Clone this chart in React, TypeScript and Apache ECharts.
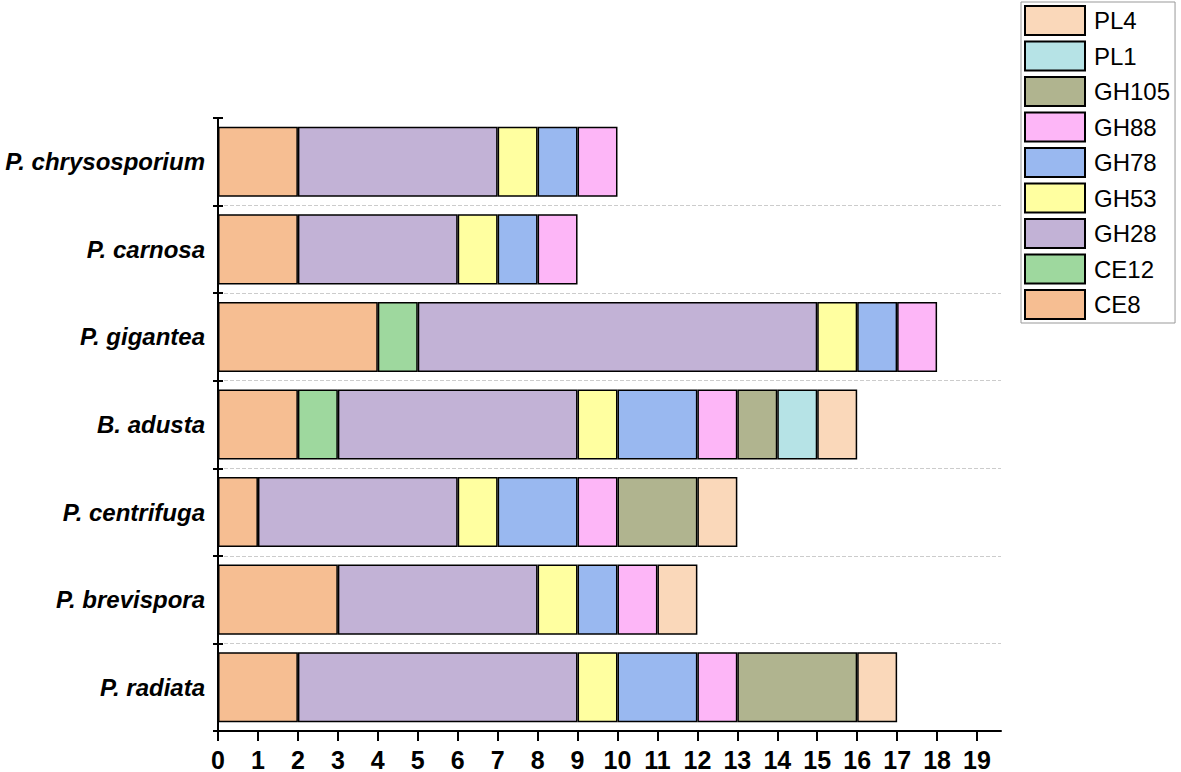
import React, { useEffect, useRef } from "react";
import * as echarts from "echarts";

const species = [
  "P. radiata",
  "P. brevispora",
  "P. centrifuga",
  "B. adusta",
  "P. gigantea",
  "P. carnosa",
  "P. chrysosporium",
];
const seriesNames = ["CE8", "CE12", "GH28", "GH53", "GH78", "GH88", "GH105", "PL1", "PL4"];
const colors = ["#F6BE92", "#9ED89E", "#C2B2D6", "#FFFFA0", "#99B8F0", "#FDB6F7", "#B0B48F", "#B6E3E6", "#FAD8BA"];
// order follows species (bottom to top)
const CE8 = [2, 3, 1, 2, 4, 2, 2];
const CE12 = [0, 0, 0, 1, 1, 0, 0];
const GH28 = [7, 5, 5, 6, 10, 4, 5];
const GH53 = [1, 1, 1, 1, 1, 1, 1];
const GH78 = [2, 1, 2, 2, 1, 1, 1];
const GH88 = [1, 1, 1, 1, 1, 1, 1];
const GH105 = [3, 0, 2, 1, 0, 0, 0];
const PL1 = [0, 0, 0, 1, 0, 0, 0];
const PL4 = [1, 1, 1, 1, 0, 0, 0];
const values = [CE8, CE12, GH28, GH53, GH78, GH88, GH105, PL1, PL4];
const xTickValues = [0, 1, 2, 3, 4, 5, 6, 7, 8, 9, 10, 11, 12, 13, 14, 15, 16, 17, 18, 19];
const xMin = 0;
const xMax = 19.6;

const FONT = 'Arial, "Liberation Sans", sans-serif';

export default function App() {
  const ref = useRef<HTMLDivElement>(null);
  useEffect(() => {
    if (!ref.current) return;
    const chart = echarts.init(ref.current, null, { renderer: "svg" });
    chart.setOption({
      animation: false,
      textStyle: { fontFamily: FONT },
      legend: {
        data: [...seriesNames].reverse(),
        orient: "vertical",
        left: 1021,
        top: 2,
        padding: [3, 5, 3, 3],
        itemWidth: 60,
        itemHeight: 29,
        itemGap: 4.5,
        borderColor: "#999",
        borderWidth: 1,
        icon: "rect",
        textStyle: { fontSize: 24, color: "#000", fontFamily: FONT, padding: [0, 0, 0, 4] },
      },
      grid: { left: 218, top: 118, width: 783, height: 613 },
      xAxis: {
        type: "value",
        min: xMin,
        max: xMax,
        interval: 1,
        axisLine: { show: true, lineStyle: { color: "#000", width: 2 } },
        axisTick: { show: true, length: 10, customValues: xTickValues, lineStyle: { color: "#000", width: 2 } },
        axisLabel: {
          margin: 16,
          fontSize: 25,
          fontWeight: "bold",
          color: "#000",
          fontFamily: FONT,
          customValues: xTickValues,
        },
        splitLine: { show: false },
      },
      yAxis: [
        {
          type: "category",
          data: species,
          axisLine: { show: true, lineStyle: { color: "#000", width: 2 } },
          axisTick: { show: true, length: 5, lineStyle: { color: "#000", width: 2 } },
          axisLabel: {
            margin: 13,
            fontSize: 24,
            fontWeight: "bold",
            fontStyle: "italic",
            color: "#000",
            fontFamily: FONT,
          },
          splitLine: {
            show: true,
            showMaxLine: false,
            lineStyle: { color: "#ccc", type: "dashed", width: 1 },
          },
        },
        {
          type: "category",
          data: species,
          position: "left",
          axisLine: { show: false },
          axisTick: { show: true, inside: true, length: 5, lineStyle: { color: "#000", width: 2 } },
          axisLabel: { show: false },
          splitLine: { show: false },
        },
      ],
      series: seriesNames.map((name, i) => ({
        name,
        type: "bar",
        stack: "total",
        yAxisIndex: 0,
        barWidth: "80%",
        itemStyle: { color: colors[i], borderColor: "#000", borderWidth: 1.5 },
        data: values[i].map((v) => (v === 0 ? "-" : v)),
      })),
    });
    return () => chart.dispose();
  }, []);
  return <div ref={ref} style={{ width: 1181, height: 772, position: "absolute", left: 0, top: 0 }} />;
}
